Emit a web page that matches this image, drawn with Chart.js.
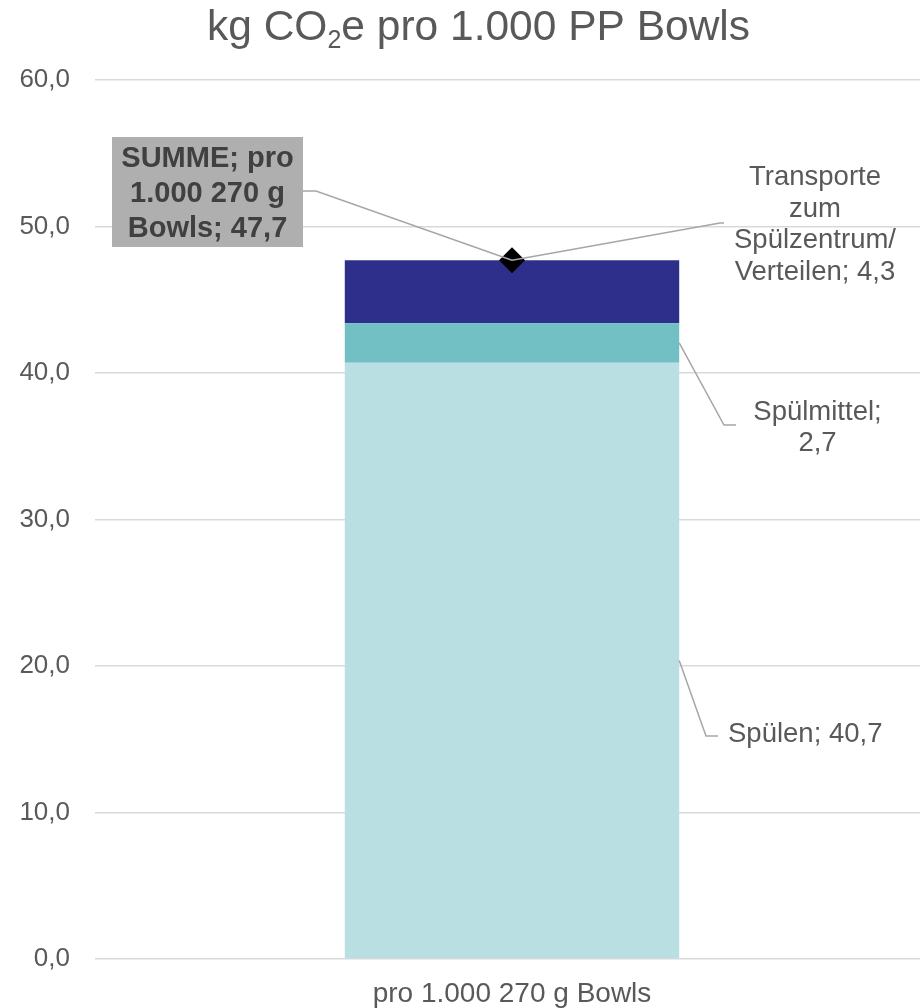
<!DOCTYPE html>
<html>
<head>
<meta charset="utf-8">
<style>
  html, body { margin: 0; padding: 0; background: #ffffff; overflow: hidden; }
  #wrap { position: relative; width: 942px; height: 1008px; }
</style>
<script src="https://cdn.jsdelivr.net/npm/chart.js@4.4.1/dist/chart.umd.min.js"></script>
</head>
<body>
<div id="wrap"><canvas id="c" width="942" height="1008"></canvas></div>
<script>
// Category and series values (kg CO2e per 1.000 bowls)
const categories = ['pro 1.000 270 g Bowls'];
const seriesNames = ['Spülen', 'Spülmittel', 'Transporte zum Spülzentrum/ Verteilen'];
const spuelen = [40.7];
const spuelmittel = [2.7];
const transporte = [4.3];
const summe = [47.7];
const yTicks = [0, 10, 20, 30, 40, 50, 60];

const FONT = '"Liberation Sans", Arial, Helvetica, sans-serif';
const TEXT = '#595959';
const fmt = v => v.toFixed(1).replace('.', ',');

// Title with subscript "2", drawn on the canvas
const titlePlugin = {
  id: 'titleSub',
  afterDraw(chart) {
    const ctx = chart.ctx;
    ctx.save();
    ctx.fillStyle = TEXT;
    ctx.textBaseline = 'alphabetic';
    const big = '42.5px ' + FONT, small = '25px ' + FONT;
    const parts = [['kg CO', big, 0], ['2', small, 8], ['e pro 1.000 PP Bowls', big, 0]];
    let w = 0;
    parts.forEach(p => { ctx.font = p[1]; w += ctx.measureText(p[0]).width; });
    let x = 478.5 - w / 2;
    const base = 40;
    parts.forEach(p => {
      ctx.font = p[1];
      ctx.textAlign = 'left';
      ctx.fillText(p[0], x, base + p[2]);
      x += ctx.measureText(p[0]).width;
    });
    ctx.restore();
  }
};

// Data labels with leader lines
const labelPlugin = {
  id: 'leaderLabels',
  afterDatasetsDraw(chart) {
    const ctx = chart.ctx;
    const mS = chart.getDatasetMeta(0).data[0];
    const mM = chart.getDatasetMeta(1).data[0];
    const mT = chart.getDatasetMeta(2).data[0];
    const mSum = chart.getDatasetMeta(3).data[0];
    const right = el => el.x + el.width / 2;
    const mid = el => (el.y + el.base) / 2;

    ctx.save();
    ctx.strokeStyle = '#a6a6a6';
    ctx.lineWidth = 1.5;
    const path = pts => {
      ctx.beginPath();
      ctx.moveTo(pts[0][0], pts[0][1]);
      for (let i = 1; i < pts.length; i++) ctx.lineTo(pts[i][0], pts[i][1]);
      ctx.stroke();
    };
    // Summe box leader
    path([[303, 191], [316, 191], [mSum.x, mSum.y]]);
    // Transporte leader
    path([[mT.x, mT.y], [720, 223], [724, 223]]);
    // Spülmittel leader
    path([[right(mM), mid(mM)], [724, 425], [736, 425]]);
    // Spülen leader
    path([[right(mS), mid(mS)], [706, 736], [718, 736]]);

    // Summe box
    ctx.fillStyle = '#afafaf';
    ctx.fillRect(112, 137, 191, 110);
    ctx.fillStyle = '#404040';
    ctx.font = 'bold 29px ' + FONT;
    ctx.textAlign = 'center';
    ctx.textBaseline = 'alphabetic';
    ['SUMME; pro', '1.000 270 g', 'Bowls; ' + fmt(summe[0])].forEach((t, i) => {
      ctx.fillText(t, 207.5, 167 + i * 35);
    });

    ctx.fillStyle = TEXT;
    ctx.font = '27.5px ' + FONT;
    ['Transporte', 'zum', 'Spülzentrum/', 'Verteilen; ' + fmt(transporte[0])].forEach((t, i) => {
      ctx.fillText(t, 815, 185 + i * 31.5);
    });
    ['Spülmittel;', fmt(spuelmittel[0])].forEach((t, i) => {
      ctx.fillText(t, 817.5, 420 + i * 31);
    });
    ctx.textAlign = 'left';
    ctx.fillText('Spülen; ' + fmt(spuelen[0]), 728, 742);
    ctx.restore();
  }
};

new Chart(document.getElementById('c'), {
  type: 'bar',
  data: {
    labels: categories,
    datasets: [
      { label: seriesNames[0], data: spuelen, backgroundColor: '#b9dfe2', stack: 'a', order: 1 },
      { label: seriesNames[1], data: spuelmittel, backgroundColor: '#72bfc4', stack: 'a', order: 1 },
      { label: seriesNames[2], data: transporte, backgroundColor: '#2e2f8b', stack: 'a', order: 1 },
      { type: 'line', label: 'SUMME', data: summe, stack: 'sum', order: 0, showLine: false,
        pointStyle: 'rectRot', pointRadius: 13, pointHoverRadius: 13,
        backgroundColor: '#000000', borderColor: '#000000', borderWidth: 0 }
    ]
  },
  options: {
    responsive: false,
    animation: false,
    events: [],
    layout: { padding: { top: 80, right: 0, left: 0, bottom: 0 } },
    datasets: { bar: { barPercentage: 0.401, categoryPercentage: 1 } },
    plugins: { legend: { display: false }, tooltip: { enabled: false }, title: { display: false } },
    scales: {
      x: {
        stacked: true,
        grid: { display: false },
        border: { display: false },
        ticks: { color: TEXT, font: { family: FONT, size: 28 }, padding: 10 },
        afterFit(s) { s.height = 49; }
      },
      y: {
        stacked: true,
        min: 0, max: 60,
        afterBuildTicks(s) { s.ticks = yTicks.map(v => ({ value: v })); },
        grid: { color: '#d9d9d9', lineWidth: 1.5, drawTicks: false },
        border: { display: false },
        ticks: { color: TEXT, font: { family: FONT, size: 26 }, padding: 25, callback: v => fmt(v) },
        afterFit(s) { s.width = 95; }
      }
    }
  },
  plugins: [titlePlugin, labelPlugin]
});
</script>
</body>
</html>
